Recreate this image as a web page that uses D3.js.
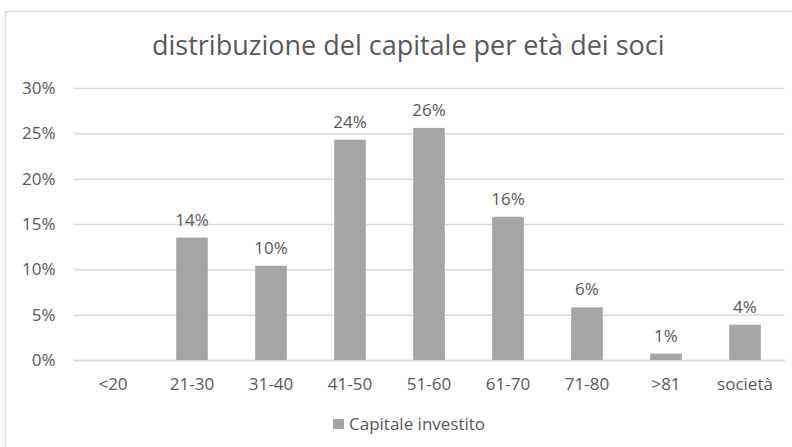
<!DOCTYPE html>
<html>
<head>
<meta charset="utf-8">
<script src="https://cdn.jsdelivr.net/npm/d3@7"></script>
<style>
  body { margin: 0; background: #fff; }
  svg { display: block; font-family: 'Open Sans', sans-serif; }
</style>
</head>
<body>
<main></main>
<script>
/************************************************************************
 data
************************************************************************/
const categories = ['<20', '21-30', '31-40', '41-50', '51-60', '61-70', '71-80', '>81', 'società'];
const values = [null, 13.5, 10.4, 24.3, 25.6, 15.8, 5.8, 0.7, 3.9]; // percent
const yTicks = [0, 5, 10, 15, 20, 25, 30];
const seriesName = 'Capitale investito';
const title = 'distribuzione del capitale per età dei soci';

// constants
const width = 792;
const height = 447;
const plotLeft = 73.5;
const plotRight = 784.5;
const plotTop = 88;
const plotBottom = 360;
const fontSize = 17;
const barColor = '#a5a5a5';
const gridColor = '#d9d9d9';
const textColor = '#595959';

const svg = d3.select('main')
  .append('svg')
  .attr('width', width)
  .attr('height', height);

// chart frame (cut off at the right and bottom of the picture)
svg.append('rect')
  .attr('x', 5.5)
  .attr('y', 11.5)
  .attr('width', width + 20)
  .attr('height', height + 20)
  .attr('fill', '#fff')
  .attr('stroke', gridColor)
  .attr('stroke-width', 1.5);

/************************************************************************
 scales
************************************************************************/
const xScale = d3.scaleBand()
  .domain(categories)
  .range([plotLeft, plotRight])
  .paddingInner(0.6)
  .paddingOuter(0.3);

const yScale = d3.scaleLinear()
  .domain([0, 30])
  .range([plotBottom, plotTop]);

/************************************************************************
 gridlines + axes
************************************************************************/
const yAxis = d3.axisLeft(yScale)
  .tickValues(yTicks)
  .tickSize(-(plotRight - plotLeft))
  .tickPadding(18)
  .tickFormat(d => `${d}%`);

svg.append('g')
  .attr('id', 'yAxis')
  .attr('transform', `translate(${plotLeft}, 0)`)
  .call(yAxis);

d3.select('#yAxis .domain').remove();
svg.selectAll('#yAxis line')
  .attr('stroke', gridColor)
  .attr('stroke-width', 1.5);
svg.selectAll('#yAxis text')
  .attr('fill', textColor)
  .attr('font-size', fontSize)
  .attr('font-family', 'Open Sans, sans-serif');

const xAxis = d3.axisBottom(xScale)
  .tickSize(0)
  .tickPadding(18);

svg.append('g')
  .attr('id', 'xAxis')
  .attr('transform', `translate(0, ${plotBottom})`)
  .call(xAxis);

d3.select('#xAxis .domain')
  .attr('stroke', gridColor)
  .attr('stroke-width', 1.5);
svg.selectAll('#xAxis text')
  .attr('fill', textColor)
  .attr('font-size', fontSize)
  .attr('font-family', 'Open Sans, sans-serif');

/************************************************************************
 bars + labels
************************************************************************/
const rows = categories.map((c, i) => ({ category: c, value: values[i] }))
  .filter(d => d.value !== null);

svg.selectAll('rect.bar')
  .data(rows)
  .enter()
  .append('rect')
  .attr('class', 'bar')
  .attr('x', d => xScale(d.category))
  .attr('y', d => yScale(d.value))
  .attr('width', xScale.bandwidth())
  .attr('height', d => yScale(0) - yScale(d.value))
  .attr('fill', barColor);

svg.selectAll('text.label')
  .data(rows)
  .enter()
  .append('text')
  .attr('class', 'label')
  .attr('x', d => xScale(d.category) + xScale.bandwidth() / 2)
  .attr('y', d => yScale(d.value) - 12)
  .attr('text-anchor', 'middle')
  .attr('font-size', fontSize)
  .attr('fill', textColor)
  .text(d => `${Math.round(d.value)}%`);

/************************************************************************
 title + legend
************************************************************************/
svg.append('text')
  .text(title)
  .attr('x', (151.5 + 665) / 2)
  .attr('y', 55)
  .attr('text-anchor', 'middle')
  .attr('font-size', 27)
  .attr('fill', textColor);

svg.append('rect')
  .attr('x', 333)
  .attr('y', 419)
  .attr('width', 11)
  .attr('height', 10)
  .attr('fill', barColor);

svg.append('text')
  .text(seriesName)
  .attr('x', 349)
  .attr('y', 430)
  .attr('font-size', fontSize)
  .attr('fill', textColor);
</script>
</body>
</html>
